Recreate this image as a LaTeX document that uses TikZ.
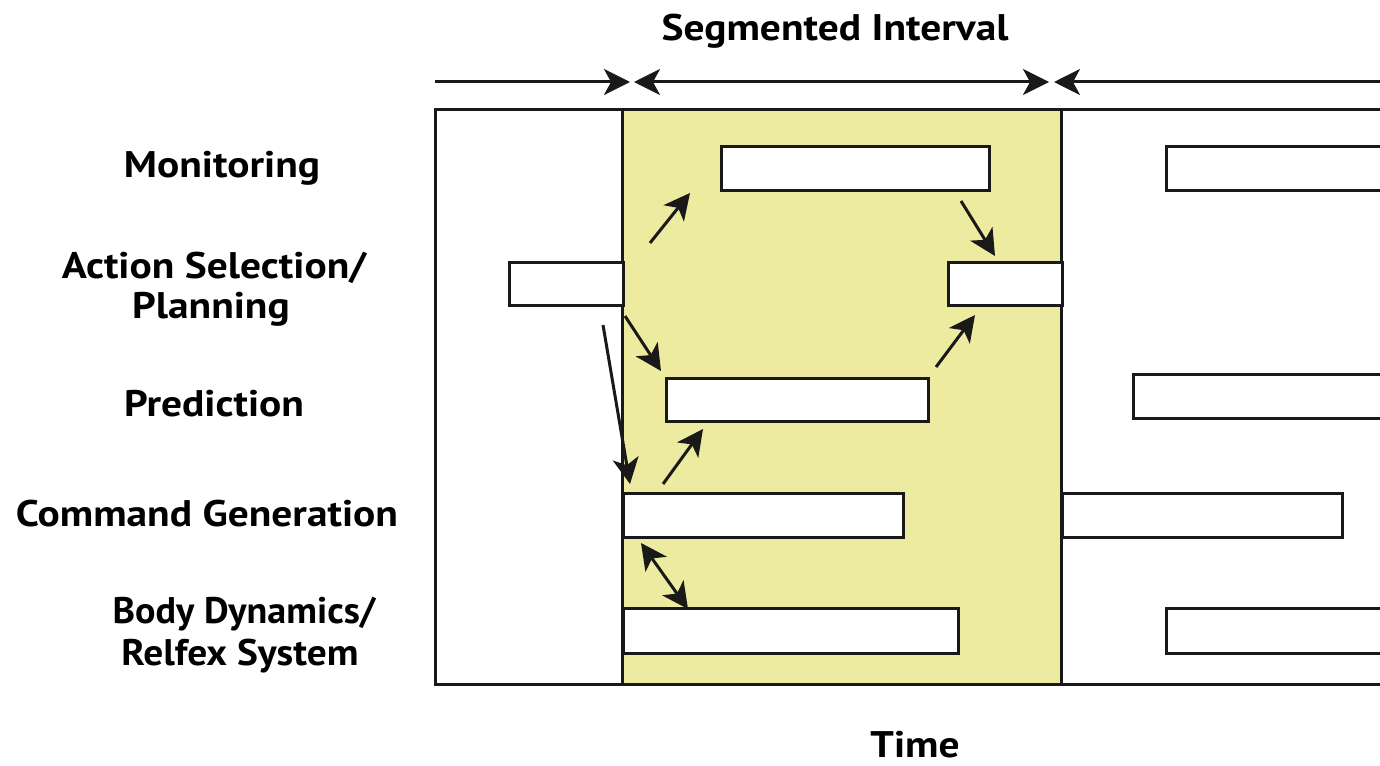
\documentclass[tikz,border=0pt]{standalone}
\usepackage{fontspec}
\setmainfont[FakeStretch=1.12]{PT Sans}
\usetikzlibrary{arrows.meta,calc}
\definecolor{segfill}{RGB}{236,235,160}
\tikzset{
  lbl/.style={font=\bfseries\fontsize{37}{42}\selectfont, inner sep=0pt, anchor=base},
  bar/.style={draw=black!90, line width=3pt, fill=white, inner sep=0pt, anchor=north west},
  frameline/.style={line width=3pt, black!90},
  tip/.tip={Stealth[length=26pt,width=26pt,inset=7pt]},
  arr/.style={line width=3pt, black!90, -tip},
  darr/.style={line width=3pt, black!90, tip-tip}
}
\begin{document}
\begin{tikzpicture}[x=1pt,y=-1pt]
\useasboundingbox (0,0) rectangle (1380,765);
\clip (0,0) rectangle (1380,765);

% segmented interval band
\fill[segfill] (622,110) rectangle (1061,684);

% frame of the time axis
\coordinate (fl) at (435,110);
\coordinate (fr) at (1400,110);
\coordinate (bl) at (435,684);
\coordinate (br) at (1400,684);
\draw[frameline] (fr) -- (fl) -- (bl) -- (br);
\draw[frameline] (622,110) -- (622,684);
\draw[frameline] (1061,110) -- (1061,684);

% interval markers
\coordinate (t0) at (435,82);
\coordinate (t1) at (630,82);
\coordinate (t2) at (634,82);
\coordinate (t3) at (1049,82);
\coordinate (t4) at (1054,82);
\coordinate (t5) at (1400,82);
\draw[arr] (t0) -- (t1);
\draw[darr] (t2) -- (t3);
\draw[arr] (t5) -- (t4);

% activity bars
\node[bar, minimum width=268pt, minimum height=44pt] (mon1) at (720,145) {};
\node[bar, minimum width=260pt, minimum height=44pt] (mon2) at (1165,145) {};
\node[bar, minimum width=114pt, minimum height=43pt] (act0) at (508,261) {};
\node[bar, minimum width=114pt, minimum height=43pt] (act1) at (947,261) {};
\node[bar, minimum width=262pt, minimum height=43pt] (pre1) at (665,377) {};
\node[bar, minimum width=290pt, minimum height=44pt] (pre2) at (1132,373) {};
\node[bar, minimum width=280pt, minimum height=44pt] (cmd1) at (622,492) {};
\node[bar, minimum width=280pt, minimum height=44pt] (cmd2) at (1061,492) {};
\node[bar, minimum width=335pt, minimum height=45pt] (bod1) at (622,607) {};
\node[bar, minimum width=260pt, minimum height=45pt] (bod2) at (1165,607) {};

% causal links between activities
\draw[arr] ($(pre1.north west)+(-15,-134)$) -- ($(mon1.south west)+(-30,1)$);
\draw[arr] ($(mon1.south east)+(-30,9)$) -- ($(act1.north west)+(48,-5)$);
\draw[arr] ($(pre1.north east)+(6,-10)$) -- ($(act1.south west)+(28,8)$);
\draw[arr] ($(act0.south east)+(0,9)$) -- ($(pre1.north west)+(-4,-6)$);
\draw[arr] ($(act0.south east)+(-22,18)$) -- ($(cmd1.north west)+(8,-8)$);
\draw[arr] ($(cmd1.north west)+(41,-8)$) -- ($(pre1.south west)+(38,6)$);
\draw[darr] ($(cmd1.south west)+(19,4)$) -- ($(bod1.north west)+(66,2)$);

% row labels
\node[lbl] (lmon)  at (222,177) {Monitoring};
\node[lbl] (lact)  at (214,278) {Action Selection/};
\node[lbl] (lact2) at (211,318) {Planning};
\node[lbl] (lpre)  at (214,416) {Prediction};
\node[lbl] (lcmd)  at (207,526) {Command Generation};
\node[lbl] (lbod)  at (244,623) {\scalebox{0.92}[1]{Body Dynamics/}};
\node[lbl] (lbod2) at (240,665) {\scalebox{0.95}[1]{Relfex System}};

% axis captions
\node[lbl] (seg)  at (835,41) {Segmented Interval};
\node[lbl] (time) at (915,757) {Time};
\end{tikzpicture}
\end{document}
